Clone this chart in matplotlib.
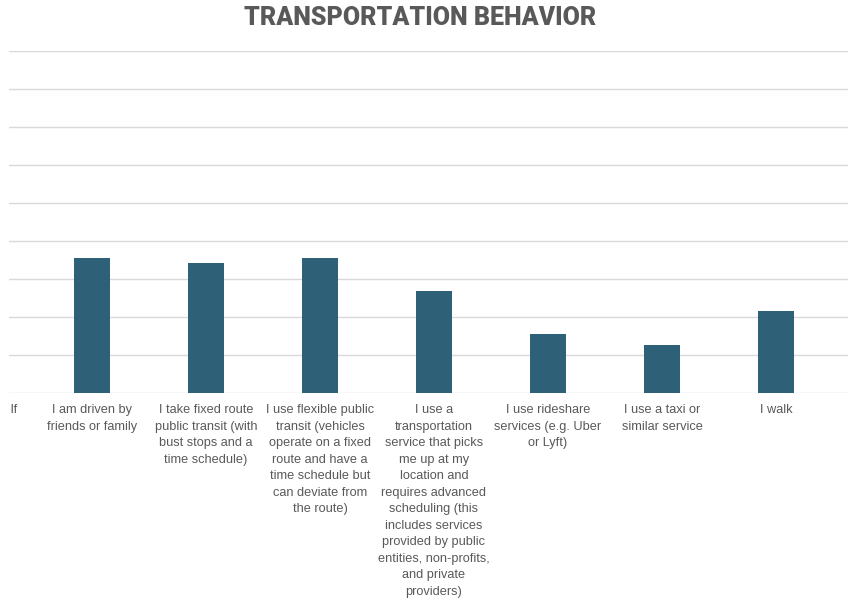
import matplotlib
matplotlib.use('Agg')
import matplotlib.pyplot as plt
from matplotlib.transforms import Bbox, TransformedBbox

# categories (the first one is cut off at the left edge of the picture)
categories = [
    'I drive myself',
    'I am driven by\nfriends or family',
    'I take fixed route\npublic transit (with\nbust stops and a\ntime schedule)',
    'I use flexible public\ntransit (vehicles\noperate on a fixed\nroute and have a\ntime schedule but\ncan deviate from\nthe route)',
    'I use a\ntransportation\nservice that picks\nme up at my\nlocation and\nrequires advanced\nscheduling (this\nincludes services\nprovided by public\nentities, non-profits,\nand private\nproviders)',
    'I use rideshare\nservices (e.g. Uber\nor Lyft)',
    'I use a taxi or\nsimilar service',
    'I walk',
]
# values of the visible bars (categories 1..7), in gridline units
values = [3.55, 3.42, 3.55, 2.68, 1.55, 1.26, 2.16]

bar_color = '#2E6178'
text_color = '#595959'
grid_color = '#D9D9D9'


def main():
    fig = plt.figure(figsize=(8.53, 6.10), dpi=100)
    ax = fig.add_axes([9 / 853, 217 / 610, 839 / 853, 342 / 610])

    positions = list(range(1, len(values) + 1))
    ax.bar(positions, values, width=0.316, color=bar_color, zorder=3)

    ax.set_yticks(range(0, 10))
    ax.yaxis.grid(True, color=grid_color, linewidth=1)
    ax.set_axisbelow(True)
    ax.tick_params(axis='y', left=False, labelleft=False)

    label_kw = dict(fontsize=9.2, color=text_color, family='Liberation Sans',
                    linespacing=1.5, va='top')
    ax.set_xticks(positions)
    ax.set_xticklabels(categories[1:], ha='center', **label_kw)
    ax.tick_params(axis='x', length=0, pad=8)
    ax.set_xlim(0.272, 7.632)
    ax.set_ylim(0, 9)

    # first category sits outside the view; its label is clipped by the
    # chart area so only the last letters show
    cut = ax.annotate(categories[0], xy=(0, 0), xytext=(28.3, -8),
                      textcoords='offset points', annotation_clip=False,
                      ha='right', **label_kw)
    cut.set_clip_box(TransformedBbox(Bbox([[10 / 853, 0], [1, 1]]), fig.transFigure))
    cut.set_clip_on(True)

    for s in ax.spines.values():
        s.set_visible(False)

    fig.text(420 / 853, 1 - 18 / 610, 'TRANSPORTATION BEHAVIOR',
             ha='center', va='center', fontsize=18, fontweight='black',
             color=text_color, family='Roboto')

    fig.savefig('out.png', dpi=100)


if __name__ == "__main__":
    main()
